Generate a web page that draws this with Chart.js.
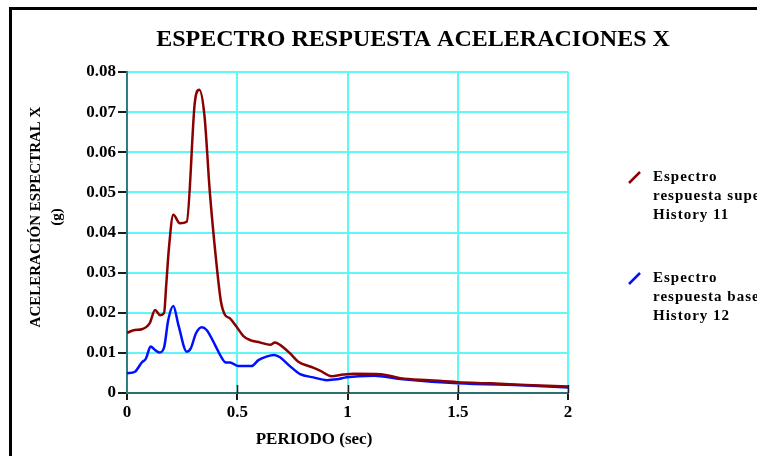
<!DOCTYPE html>
<html>
<head>
<meta charset="utf-8">
<script src="https://cdn.jsdelivr.net/npm/chart.js@4.4.0/dist/chart.umd.min.js"></script>
<style>
  body { margin: 0; background: #fff; }
  canvas { display: block; }
</style>
</head>
<body>
<canvas id="espectro" width="757" height="456"></canvas>
<script>
// periodos (sec) y aceleraciones (g)
const periodoSup = [0, 0.036, 0.067, 0.104, 0.127, 0.150, 0.168, 0.178, 0.190, 0.210, 0.240, 0.271, 0.308, 0.328, 0.351, 0.376, 0.404, 0.426, 0.444, 0.467, 0.497, 0.528, 0.558, 0.603, 0.649, 0.671, 0.694, 0.739, 0.777, 0.830, 0.875, 0.928, 0.981, 1.03, 1.15, 1.24, 1.37, 1.50, 1.65, 1.81, 2.0];
const acelSup = [0.0150, 0.0157, 0.0159, 0.0175, 0.0207, 0.0194, 0.0199, 0.0270, 0.0360, 0.0444, 0.0423, 0.0427, 0.0726, 0.0756, 0.0693, 0.0498, 0.0332, 0.0228, 0.0195, 0.0186, 0.0165, 0.0142, 0.0132, 0.0126, 0.0120, 0.0126, 0.0120, 0.0099, 0.0078, 0.0066, 0.0056, 0.0042, 0.0046, 0.0048, 0.0047, 0.0037, 0.0032, 0.0027, 0.0024, 0.0020, 0.0016];

const periodoBase = [0, 0.036, 0.067, 0.086, 0.107, 0.127, 0.147, 0.168, 0.187, 0.210, 0.233, 0.271, 0.289, 0.313, 0.339, 0.361, 0.399, 0.422, 0.449, 0.467, 0.505, 0.565, 0.596, 0.634, 0.667, 0.694, 0.739, 0.785, 0.845, 0.906, 0.951, 0.996, 1.05, 1.12, 1.24, 1.50, 1.81, 2.0];
const acelBase = [0.0049, 0.0053, 0.0076, 0.0086, 0.0116, 0.0107, 0.0101, 0.0113, 0.0182, 0.0217, 0.0170, 0.0103, 0.0111, 0.0149, 0.0164, 0.0157, 0.0120, 0.0095, 0.0076, 0.0076, 0.0067, 0.0067, 0.0082, 0.0091, 0.0095, 0.0089, 0.0067, 0.0047, 0.0039, 0.0032, 0.0034, 0.0039, 0.0042, 0.0043, 0.0035, 0.0024, 0.0019, 0.0014];

const xTicks = [0, 0.5, 1, 1.5, 2];
const yTicks = [0, 0.01, 0.02, 0.03, 0.04, 0.05, 0.06, 0.07, 0.08];

const titulo = 'ESPECTRO RESPUESTA ACELERACIONES X';
const tituloX = 'PERIODO (sec)';
const tituloY = ['ACELERACIÓN ESPECTRAL X', '(g)'];
const leyendas = [
  ['Espectro', 'respuesta superior', 'History 11'],
  ['Espectro', 'respuesta base', 'History 12']
];

const serif = '"Liberation Serif", "Times New Roman", serif';
const cian = '#5ff7f7';

function puntos(xs, ys) {
  return xs.map((x, i) => ({ x: x, y: ys[i] }));
}

// marco, titulos y leyenda
const decoracion = {
  id: 'decoracion',
  beforeDraw(chart) {
    const ctx = chart.ctx;
    ctx.save();
    ctx.fillStyle = '#fff';
    ctx.fillRect(0, 0, chart.width, chart.height);
    ctx.strokeStyle = '#000';
    ctx.lineWidth = 3;
    ctx.beginPath();
    ctx.moveTo(10.5, 460);
    ctx.lineTo(10.5, 8.5);
    ctx.lineTo(760, 8.5);
    ctx.stroke();
    ctx.restore();
  },
  afterDraw(chart) {
    const ctx = chart.ctx;
    const xs = chart.scales.x, ys = chart.scales.y;
    ctx.save();
    // marcas del eje x hacia adentro
    ctx.strokeStyle = '#1a1a1a';
    ctx.lineWidth = 1.5;
    xTicks.slice(1).forEach(v => {
      const px = Math.round(xs.getPixelForValue(v)) + 0.5;
      ctx.beginPath();
      ctx.moveTo(px, ys.bottom);
      ctx.lineTo(px, ys.bottom - 8);
      ctx.stroke();
    });

    ctx.fillStyle = '#000';
    ctx.textAlign = 'center';
    ctx.textBaseline = 'middle';
    ctx.font = 'bold 24px ' + serif;
    ctx.fillText(titulo, 413, 40);

    ctx.font = 'bold 17px ' + serif;
    ctx.fillText(tituloX, 314, 440);

    ctx.save();
    ctx.font = 'bold 15px ' + serif;
    ctx.translate(36, 217);
    ctx.rotate(-Math.PI / 2);
    ctx.fillText(tituloY[0], 0, 0);
    ctx.fillText(tituloY[1], 0, 21);
    ctx.restore();

    // leyenda
    ctx.textAlign = 'left';
    ctx.font = 'bold 15px ' + serif;
    ctx.letterSpacing = '1px';
    const baseY = [177, 278];
    chart.data.datasets.forEach((ds, i) => {
      const y0 = baseY[i];
      ctx.strokeStyle = ds.borderColor;
      ctx.lineWidth = 2.5;
      ctx.beginPath();
      ctx.moveTo(629, y0 + 6);
      ctx.lineTo(640, y0 - 5);
      ctx.stroke();
      leyendas[i].forEach((t, k) => {
        ctx.fillText(t, 653, y0 + k * 19);
      });
    });
    ctx.restore();
  }
};

new Chart(document.getElementById('espectro'), {
  type: 'scatter',
  data: {
    datasets: [{
      label: leyendas[0].join(' '),
      data: puntos(periodoSup, acelSup),
      showLine: true,
      borderColor: '#8b0000',
      borderWidth: 2.5,
      pointRadius: 0,
      cubicInterpolationMode: 'monotone'
    }, {
      label: leyendas[1].join(' '),
      data: puntos(periodoBase, acelBase),
      showLine: true,
      borderColor: '#0010ff',
      borderWidth: 2.5,
      pointRadius: 0,
      cubicInterpolationMode: 'monotone'
    }]
  },
  options: {
    responsive: false,
    animation: false,
    layout: { padding: { left: 0, right: 189, top: 72, bottom: 0 } },
    plugins: {
      legend: { display: false },
      title: { display: false },
      tooltip: { enabled: false }
    },
    scales: {
      x: {
        type: 'linear',
        min: 0,
        max: 2,
        afterFit(scale) { scale.height = 63; },
        afterBuildTicks(scale) { scale.ticks = xTicks.map(v => ({ value: v })); },
        grid: { color: cian, lineWidth: 2, tickColor: '#1a1a1a', tickLength: 7 },
        border: { color: '#2d6f6f', width: 2 },
        ticks: {
          color: '#000',
          padding: 2,
          font: { family: serif, size: 17, weight: 'bold' },
          callback: v => String(v)
        }
      },
      y: {
        min: 0,
        max: 0.08,
        afterFit(scale) { scale.width = 127; },
        afterBuildTicks(scale) { scale.ticks = yTicks.map(v => ({ value: v })); },
        grid: { color: cian, lineWidth: 2, tickColor: '#1a1a1a', tickLength: 9 },
        border: { color: '#2d7f7f', width: 2 },
        ticks: {
          color: '#000',
          padding: 2,
          font: { family: serif, size: 17, weight: 'bold' },
          callback: v => v === 0 ? '0' : v.toFixed(2)
        }
      }
    }
  },
  plugins: [decoracion]
});
</script>
</body>
</html>
